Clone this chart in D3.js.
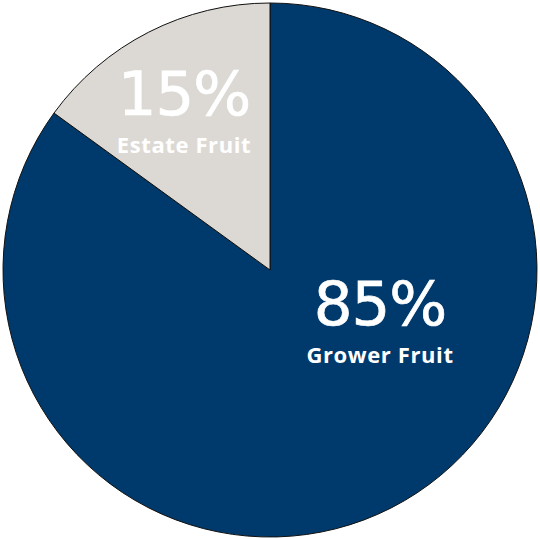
<!DOCTYPE html>
<html>
<head>
<meta charset="utf-8">
<script src="https://cdn.jsdelivr.net/npm/d3@7"></script>
<style>
  html, body { margin: 0; padding: 0; background: #fff; }
  svg { display: block; }
</style>
</head>
<body>
<div id="viz"></div>
<script>
// share of fruit source
var categories = ["Grower Fruit", "Estate Fruit"];
var values = [85, 15];
var colours = ["#003A6C", "#DCD9D5"];

var W = 540, H = 539;
var cx = 270, cy = 270, radius = 267;

// label anchors (centre x, baseline of the big percentage)
var labelPos = [[380, 325], [184, 115]];

var svg = d3.select("#viz").append("svg")
    .attr("width", W).attr("height", H);

var g = svg.append("g").attr("transform", "translate(" + cx + "," + cy + ")");

var pie = d3.pie().sort(null).value(function(d) { return d; });
var arc = d3.arc().innerRadius(0).outerRadius(radius);

var slices = pie(values);

g.selectAll("path.slice")
    .data(slices)
    .enter().append("path")
    .attr("class", "slice")
    .attr("d", arc)
    .attr("fill", function(d, i) { return colours[i]; })
    .attr("stroke", "#111")
    .attr("stroke-width", 1);

var labels = svg.append("g").attr("id", "labels");

slices.forEach(function(d, i) {
    var t = labels.append("text")
        .attr("text-anchor", "middle")
        .attr("fill", "#fff")
        .attr("transform", "translate(" + labelPos[i][0] + "," + labelPos[i][1] + ")");
    t.append("tspan")
        .attr("x", 0)
        .attr("stroke", "#fff")
        .attr("stroke-width", 0.7)
        .style("font-family", "'DejaVu Sans', sans-serif")
        .style("font-size", "61px")
        .style("letter-spacing", "-1px")
        .text(values[i] + "%");
    t.append("tspan")
        .attr("x", 0)
        .attr("dy", 38)
        .style("font-family", "'Open Sans', sans-serif")
        .style("font-size", "22px")
        .style("font-weight", 700)
        .style("letter-spacing", "0.6px")
        .text(categories[i]);
});
</script>
</body>
</html>
